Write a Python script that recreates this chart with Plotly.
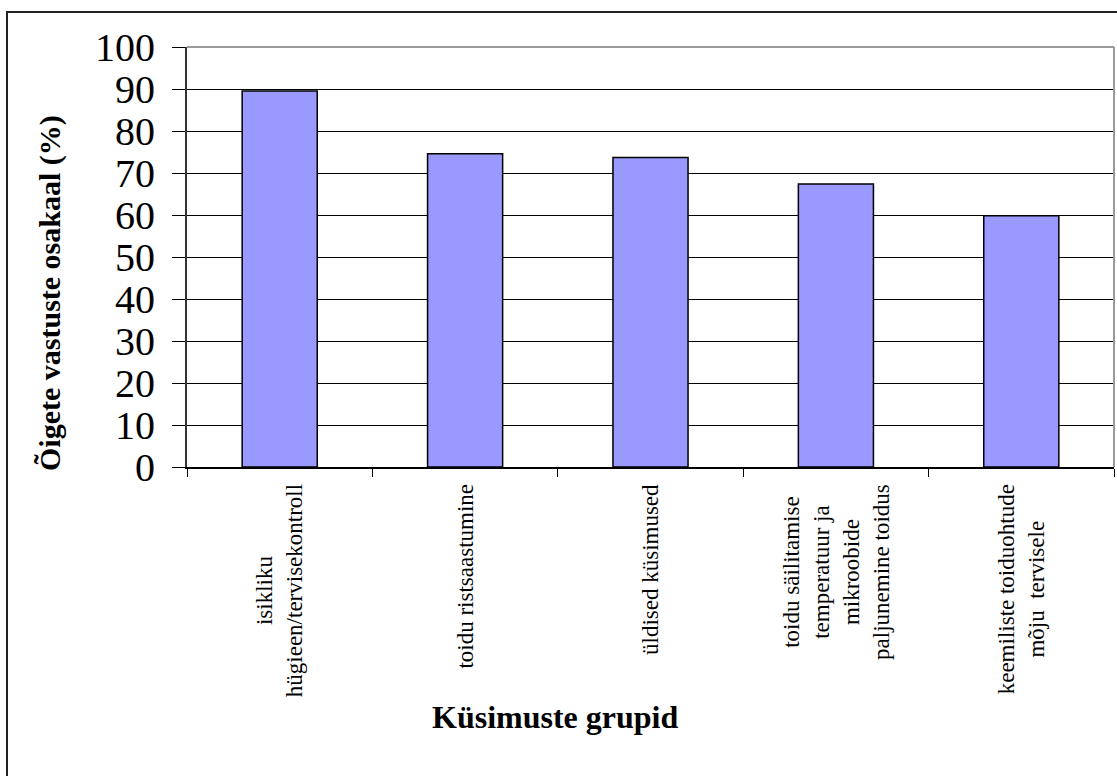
import plotly.graph_objects as go

categories = [
    "isikliku hügieen/tervisekontroll",
    "toidu ristsaastumine",
    "üldised küsimused",
    "toidu säilitamise temperatuur ja mikroobide paljunemine toidus",
    "keemiliste toiduohtude mõju tervisele",
]
tick_labels = [
    "isikliku<br>hügieen/tervisekontroll",
    "toidu ristsaastumine",
    "üldised küsimused",
    "toidu säilitamise<br>temperatuur ja<br>mikroobide<br>paljunemine toidus",
    "keemiliste toiduohtude<br>mõju\u00a0 tervisele",
]
values = [89.5, 74.6, 73.7, 67.4, 59.8]
y_ticks = list(range(0, 101, 10))

W, H = 1117, 776
L, R, T, B = 187, 3, 47, 309
pw, ph = W - L - R, H - T - B

def px_x(x):
    return (x - L) / pw

def px_y(y):
    return (H - B - y) / ph

SERIF = "Liberation Serif, Times New Roman, serif"

fig = go.Figure()
fig.add_trace(go.Bar(
    x=categories, y=values,
    marker=dict(color="#9999FF", line=dict(color="black", width=1.5)),
    width=0.405,
))

annotations = []
for c, lab in zip(categories, tick_labels):
    annotations.append(dict(
        x=c, xref="x", y=px_y(482), yref="paper",
        text=lab, textangle=-90, showarrow=False,
        xanchor="center", yanchor="top", align="center",
        font=dict(family=SERIF, size=23, color="black"),
    ))
annotations.append(dict(
    x=px_x(555), xref="paper", y=px_y(717), yref="paper",
    text="<b>Küsimuste grupid</b>", showarrow=False,
    xanchor="center", yanchor="middle",
    font=dict(family=SERIF, size=32, color="black"),
))
annotations.append(dict(
    x=px_x(50), xref="paper", y=px_y(293), yref="paper",
    text="<b>Õigete vastuste osakaal (%)</b>", textangle=-90, showarrow=False,
    xanchor="center", yanchor="middle",
    font=dict(family=SERIF, size=30, color="black"),
))

shapes = [
    # outer chart border
    dict(type="rect", xref="paper", yref="paper",
         x0=px_x(7), x1=px_x(1130), y0=px_y(790), y1=px_y(12),
         line=dict(color="#222222", width=2), fillcolor="rgba(0,0,0,0)", layer="below"),
    # plot area top and right border (gray)
    dict(type="line", xref="paper", yref="paper", x0=0, x1=1, y0=1, y1=1,
         line=dict(color="#999999", width=2), layer="above"),
    dict(type="line", xref="paper", yref="paper", x0=1, x1=1, y0=0, y1=1,
         line=dict(color="#999999", width=2), layer="above"),
]

fig.update_layout(
    width=W, height=H,
    margin=dict(l=L, r=R, t=T, b=B),
    paper_bgcolor="white", plot_bgcolor="white",
    showlegend=False,
    annotations=annotations,
    shapes=shapes,
    font=dict(family=SERIF, color="black"),
)
fig.update_xaxes(
    type="category", showticklabels=False,
    tickson="boundaries", ticks="outside", ticklen=8, tickcolor="black", tickwidth=1,
    showline=True, linecolor="black", linewidth=1.5,
    showgrid=False, zeroline=False,
)
fig.update_yaxes(
    range=[0, 100], tickvals=y_ticks, ticktext=[str(v) for v in y_ticks],
    ticks="outside", ticklen=13, tickcolor="black", tickwidth=1,
    tickfont=dict(family=SERIF, size=40, color="black"),
    ticklabelstandoff=9,
    showline=True, linecolor="#333333", linewidth=2,
    showgrid=True, gridcolor="black", gridwidth=1,
    zeroline=False,
)

fig.write_html("out.html")
